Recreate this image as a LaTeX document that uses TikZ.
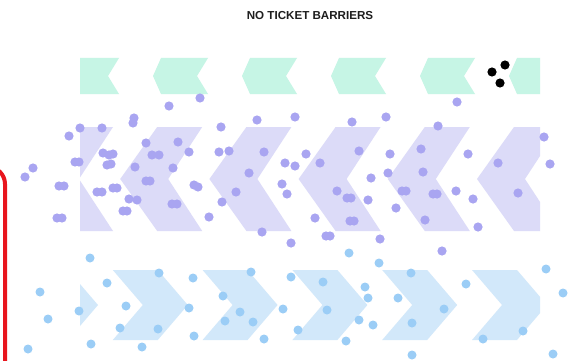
\documentclass[tikz,border=0pt]{standalone}
\usepackage{fontspec}
\setmainfont{Liberation Sans}
\definecolor{greenchev}{HTML}{C6F5E5}
\definecolor{purplechev}{HTML}{DCDBF8}
\definecolor{purpledot}{HTML}{A9A5F1}
\definecolor{bluechev}{HTML}{D2E8FA}
\definecolor{bluedot}{HTML}{9BCDF6}
\definecolor{redbar}{HTML}{E8151D}
\definecolor{titlecol}{HTML}{1E1E1E}
\tikzset{
  pdot/.style={fill=purpledot},
  bdot/.style={fill=bluedot},
  kdot/.style={fill=black},
}
\begin{document}
\begin{tikzpicture}[x=1pt,y=-1pt]
\useasboundingbox (0,0) rectangle (570,361);
\clip (0,0) rectangle (570,361);
\fill[white] (0,0) rectangle (570,361);
% title
\node[font=\bfseries\fontsize{11.6}{13}\selectfont, text=titlecol, inner sep=0pt] (title) at (310,16) {NO TICKET BARRIERS};
% chevron bands
\begin{scope}
\clip (80,0) rectangle (540,361);
\foreach \k in {0,...,5}{
  \pgfmathsetmacro{\t}{64+89*\k}
  \fill[greenchev] (\t,76) -- (\t+8,58) -- (\t+55,58) -- (\t+44,76) -- (\t+55,94) -- (\t+8,94) -- cycle;
  \pgfmathsetmacro{\p}{31+89.2*\k}
  \fill[purplechev] (\p,179) -- (\p+37,127) -- (\p+82,127) -- (\p+48,179) -- (\p+82,231) -- (\p+37,231) -- cycle;
  \pgfmathsetmacro{\b}{98+89.8*\k}
  \fill[bluechev] (\b,305) -- (\b-30,270) -- (\b-75,270) -- (\b-45,305) -- (\b-75,340) -- (\b-30,340) -- cycle;
}
\end{scope}
% purple dots
\foreach \x/\y in {169/106, 200/98, 457/102,
134/118, 133/123,
80/128, 69/136, 102/128, 221/127, 257/120, 295/117,
352/122, 386/117, 438/126,
146/143, 178/142, 189/152,
152/155, 159/155,
103/153, 109/155, 113/154, 107/165, 111/164,
75/162, 79/162,
135/167, 173/168,
219/152, 229/151, 264/152,
285/163, 295/166, 306/154,
249/173,
146/181, 150/181,
59/186, 64/186,
33/168, 25/177,
97/192, 102/192,
113/188, 117/188,
194/185, 198/187,
236/192, 282/184, 287/194,
129/199, 137/200,
172/204, 177/204,
222/202,
123/211, 127/211,
209/217, 57/218, 62/218,
262/232, 291/243,
320/163, 359/151, 390/154, 421/149, 468/154, 544/137, 550/164, 498/163,
388/173, 423/172, 371/178,
337/191, 347/198, 351/198, 368/200,
402/191, 406/191, 433/194, 437/194, 456/191, 473/199, 518/193,
396/208, 315/218, 350/221, 354/221, 425/220, 478/227,
326/236, 330/236, 380/239, 442/251}
  \fill[pdot] (\x,\y) circle[radius=4.6];
% blue dots
\foreach \x/\y in {90/258, 40/292, 48/319, 28/349, 79/311, 107/283, 126/306, 120/328, 91/344,
159/273, 193/278, 189/308, 158/329, 142/347, 194/336,
251/272, 223/296, 240/312, 225/321, 253/322, 283/309, 264/339,
291/277, 298/330, 349/253, 379/263, 323/282, 327/310, 365/287, 368/298, 359/320, 373/325, 346/341,
411/273, 398/298, 412/323, 412/355, 444/309, 466/284, 483/339, 523/331, 546/269, 563/293, 553/354}
  \fill[bdot] (\x,\y) circle[radius=4.5];
% black dots
\foreach \x/\y in {492/72, 505/65, 500/83}
  \fill[kdot] (\x,\y) circle[radius=4.6];
% red bar
\draw[redbar, line width=4pt, rounded corners=17pt] (-40,167) -- (5,167) -- (5,400);
\end{tikzpicture}
\end{document}
